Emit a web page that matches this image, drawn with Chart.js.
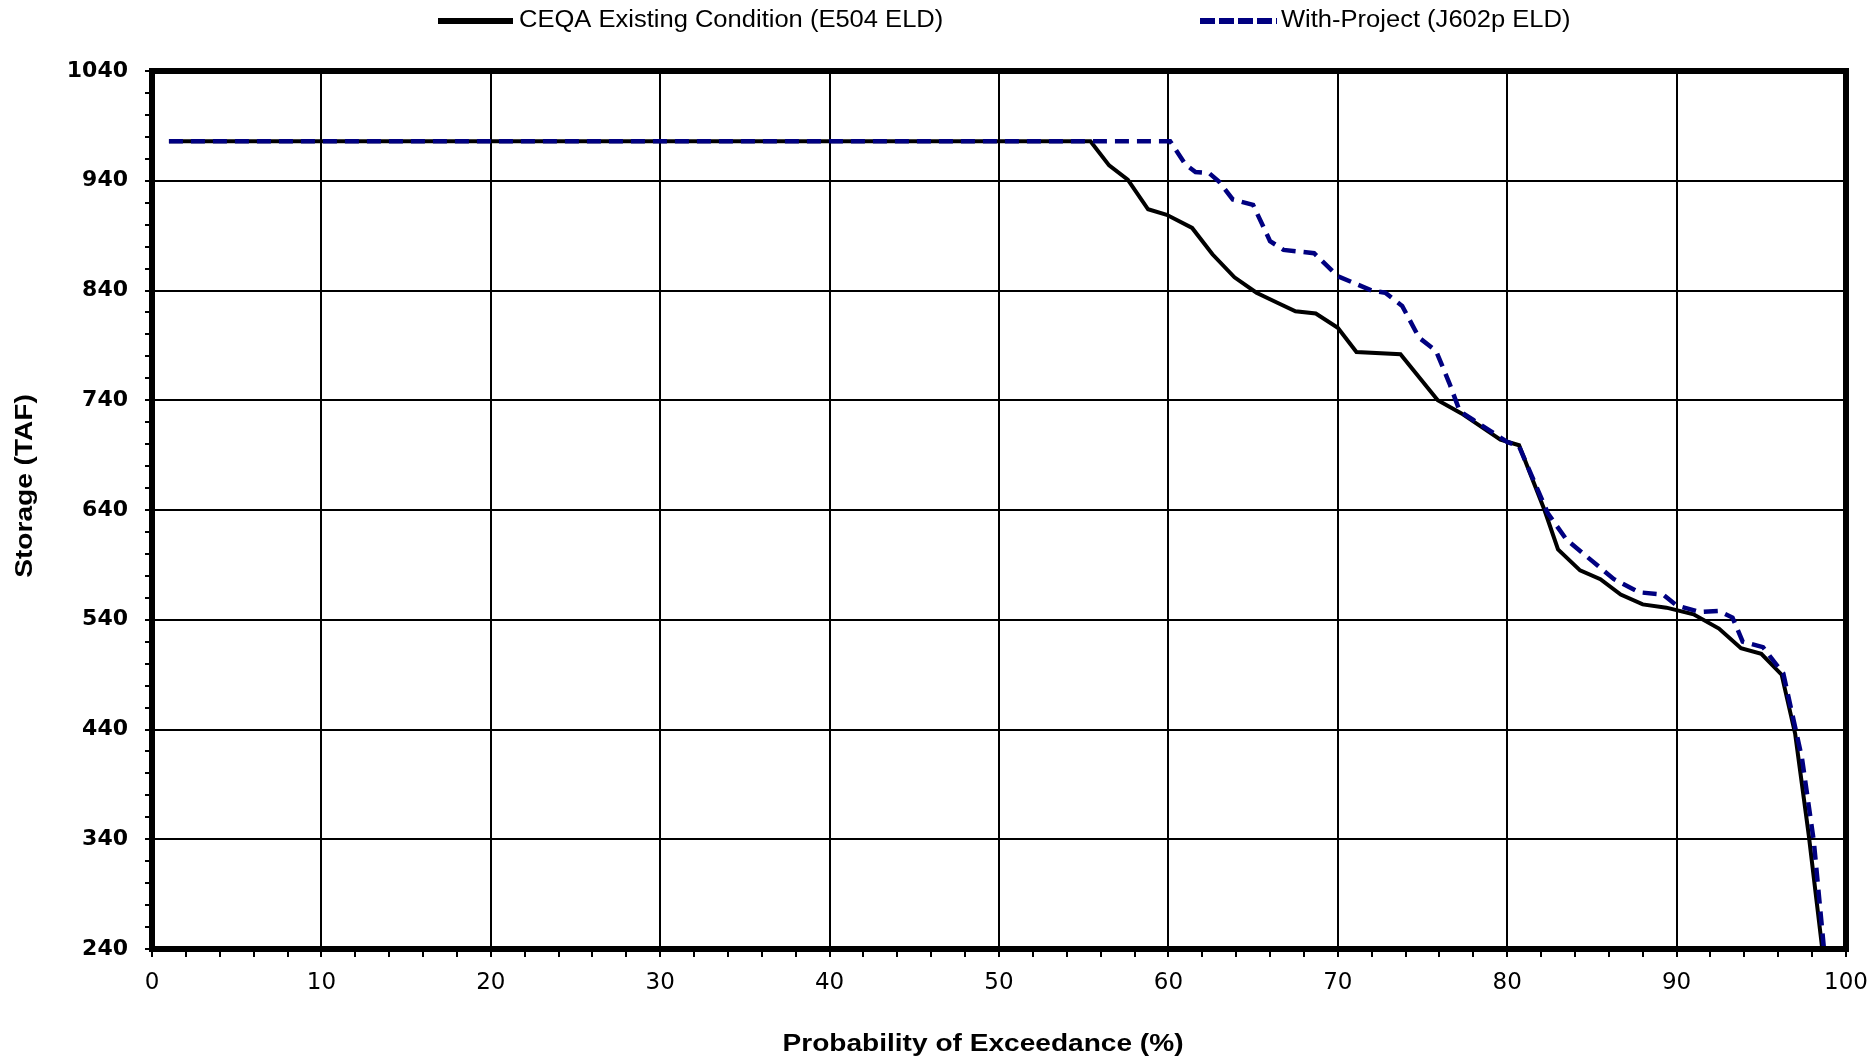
<!DOCTYPE html>
<html>
<head>
<meta charset="utf-8">
<script src="https://cdn.jsdelivr.net/npm/chart.js@4/dist/chart.umd.min.js"></script>
<style>
  html, body { margin: 0; padding: 0; background: #fff; }
  canvas { display: block; }
</style>
</head>
<body>
<canvas id="myChart" width="1874" height="1058"></canvas>
<script>
// values (probability %, storage TAF)
const existingLabel = 'CEQA Existing Condition (E504 ELD)';
const existingX = [1.0, 55.4, 56.5, 57.6, 58.8, 59.9, 61.4, 62.6, 63.9, 65.2, 66.4, 67.5, 68.7, 70.0, 71.1, 73.7,
  75.9, 77.3, 79.6, 80.7, 82.2, 83.0, 84.3, 85.5, 86.7, 88.0, 89.4, 91.0, 92.5, 93.8, 95.0, 96.2, 97.0, 97.8, 98.6];
const existingY = [976, 976, 954, 941, 914, 909, 897, 873, 852, 838, 829, 821, 819, 806, 784, 782,
  740, 728, 704, 699, 640, 604, 585, 577, 563, 554, 551, 545, 532, 514, 509, 490, 436, 344, 240];

const projectLabel = 'With-Project (J602p ELD)';
const projectX = [1.0, 60.1, 61.0, 61.6, 62.4, 63.0, 63.8, 65.0, 66.0, 66.8, 68.6, 70.0, 72.0, 72.8, 73.8, 74.8,
  75.8, 76.6, 77.2, 78.0, 80.0, 80.7, 82.4, 83.5, 84.9, 86.3, 87.8, 89.2, 90.0, 91.4, 92.5, 93.3, 93.9, 95.1, 96.3,
  97.4, 98.1, 98.7];
const projectY = [976, 976, 955, 948, 947, 939, 923, 918, 885, 877, 874, 853, 840, 838, 826, 797,
  785, 755, 730, 722, 702, 698, 637, 613, 595, 577, 565, 563, 553, 547, 548, 542, 520, 515, 491,
  414, 338, 240];

const xTitle = 'Probability of Exceedance (%)';
const yTitle = 'Storage (TAF)';

function toPoints(xs, ys) {
  return xs.map((x, i) => ({x: x, y: ys[i]}));
}

// frame, axis titles and the legend row at the top
const decor = {
  id: 'decor',
  afterDraw(chart) {
    const ctx = chart.ctx;
    const a = chart.chartArea;
    ctx.save();
    ctx.strokeStyle = '#000';
    ctx.lineWidth = 6;
    ctx.strokeRect(a.left, a.top, a.right - a.left, a.bottom - a.top);

    ctx.fillStyle = '#000';
    ctx.font = 'bold 24px "Liberation Sans", Arial, sans-serif';
    ctx.textAlign = 'center';
    ctx.textBaseline = 'alphabetic';
    ctx.save();
    ctx.translate(983, 1051);
    ctx.scale(1.17, 1);
    ctx.fillText(xTitle, 0, 0);
    ctx.restore();

    ctx.save();
    ctx.translate(32, 486);
    ctx.rotate(-Math.PI / 2);
    ctx.scale(1.17, 1);
    ctx.fillText(yTitle, 0, 0);
    ctx.restore();

    // legend
    const items = [
      {ds: chart.data.datasets[0], x0: 438, x1: 513, tx: 519, w: 6, dash: []},
      {ds: chart.data.datasets[1], x0: 1200, x1: 1277, tx: 1281, w: 6, dash: [15, 4]}
    ];
    ctx.font = '23px "Liberation Sans", Arial, sans-serif';
    ctx.textAlign = 'left';
    items.forEach(it => {
      ctx.beginPath();
      ctx.setLineDash(it.dash);
      ctx.lineWidth = it.w;
      ctx.strokeStyle = it.ds.borderColor;
      ctx.moveTo(it.x0, 21);
      ctx.lineTo(it.x1, 21);
      ctx.stroke();
      ctx.setLineDash([]);
      ctx.save();
      ctx.translate(it.tx, 27);
      ctx.scale(1.11, 1);
      ctx.fillStyle = '#000';
      ctx.fillText(it.ds.label, 0, 0);
      ctx.restore();
    });
    ctx.restore();
  }
};

var ctx = document.getElementById('myChart').getContext('2d');
var myChart = new Chart(ctx, {
  type: 'line',
  data: {
    datasets: [{
      label: existingLabel,
      data: toPoints(existingX, existingY),
      borderColor: '#000000',
      borderWidth: 4,
      pointRadius: 0,
      fill: false,
      order: 1
    }, {
      label: projectLabel,
      data: toPoints(projectX, projectY),
      borderColor: '#000080',
      borderWidth: 4.5,
      borderDash: [14, 8],
      pointRadius: 0,
      fill: false,
      order: 0
    }]
  },
  options: {
    responsive: false,
    animation: false,
    layout: {padding: {top: 71, right: 28, left: 0, bottom: 0}},
    plugins: {
      legend: {display: false},
      tooltip: {enabled: false}
    },
    elements: {line: {tension: 0}},
    scales: {
      x: {
        type: 'linear',
        min: 0,
        max: 100,
        afterFit: function(s) {
          s.height = 109;
          s.paddingLeft = 0;
          s.paddingRight = 0;
        },
        border: {display: false},
        grid: {
          color: c => (c.tick && c.tick.value % 10 === 0) ? '#000' : 'rgba(0,0,0,0)',
          lineWidth: 2,
          tickColor: '#000',
          tickWidth: 2,
          tickLength: 8
        },
        ticks: {
          stepSize: 2,
          autoSkip: false,
          maxRotation: 0,
          padding: 12,
          color: '#000',
          font: {family: 'DejaVu Sans', size: 23},
          callback: v => (v % 10 === 0 ? v : '')
        }
      },
      y: {
        type: 'linear',
        min: 240,
        max: 1040,
        afterFit: function(s) {
          s.width = 152;
          s.paddingTop = 0;
          s.paddingBottom = 0;
        },
        border: {display: false},
        grid: {
          color: c => (c.tick && (c.tick.value - 240) % 100 === 0) ? '#000' : 'rgba(0,0,0,0)',
          lineWidth: 2,
          tickColor: '#000',
          tickWidth: 2,
          tickLength: 7
        },
        ticks: {
          stepSize: 20,
          autoSkip: false,
          padding: 17,
          color: '#000',
          font: {family: 'DejaVu Sans', size: 22, weight: 'bold'},
          callback: v => ((v - 240) % 100 === 0 ? v : '')
        }
      }
    }
  },
  plugins: [decor]
});
</script>
</body>
</html>
